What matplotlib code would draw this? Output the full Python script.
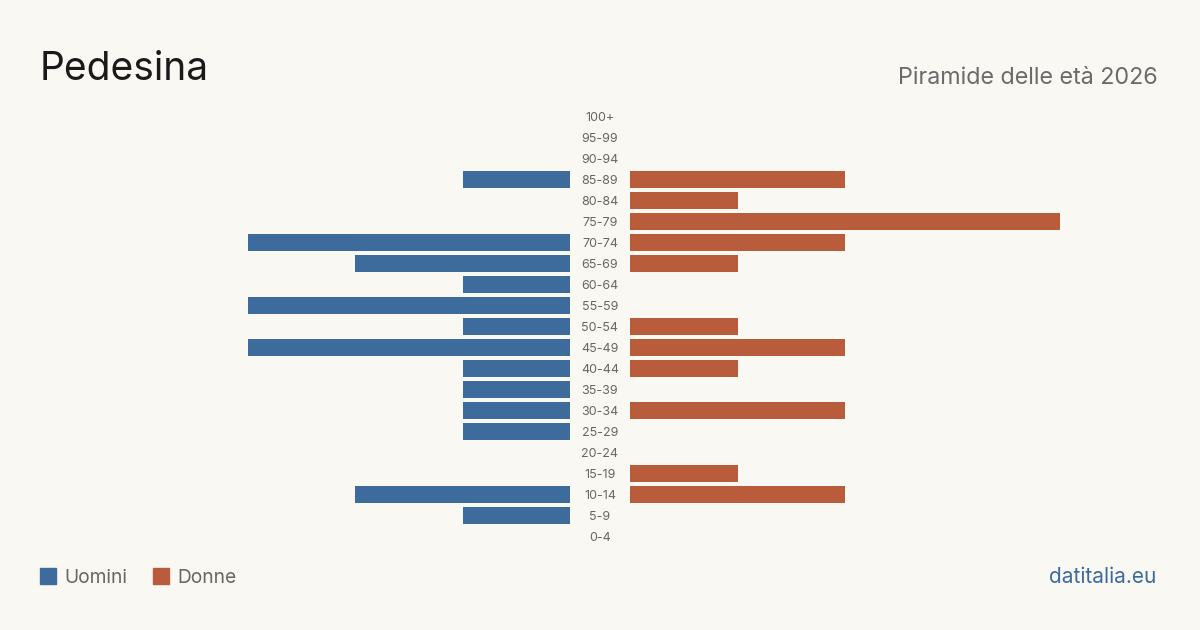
import matplotlib.pyplot as plt

plt.rcParams['font.family'] = ['Inter', 'DejaVu Sans']

# age groups from youngest to oldest
eta = ['0-4', '5-9', '10-14', '15-19', '20-24', '25-29', '30-34', '35-39',
       '40-44', '45-49', '50-54', '55-59', '60-64', '65-69', '70-74',
       '75-79', '80-84', '85-89', '90-94', '95-99', '100+']
uomini = [0, 1, 2, 0, 0, 1, 1, 1, 1, 3, 1, 3, 1, 2, 3, 0, 0, 1, 0, 0, 0]
donne = [0, 0, 2, 1, 0, 0, 2, 0, 1, 2, 1, 0, 0, 1, 2, 4, 1, 2, 0, 0, 0]

BG = '#f9f8f3'
BLU = '#3d6b9b'
ROSSO = '#b95c3c'
W, H = 1200, 630

fig = plt.figure(figsize=(12, 6.3), dpi=100, facecolor=BG)

# pixel layout: rows 21px apart, 0-4 centred at y=537, 1 person = 107.5px
bottom = (H - 547) / H
height = 21 * 21 / H
ax_l = fig.add_axes([140 / W, bottom, 430 / W, height])
ax_r = fig.add_axes([630 / W, bottom, 430 / W, height])

pos = list(range(len(eta)))
ax_l.barh(pos, uomini, height=0.8, color=BLU)
ax_r.barh(pos, donne, height=0.8, color=ROSSO)
ax_l.set_xlim(4, 0)
ax_r.set_xlim(0, 4)
for ax in (ax_l, ax_r):
    ax.set_ylim(-0.5, len(eta) - 0.5)
    ax.axis('off')

for i, lab in enumerate(eta):
    y = (538 - i * 21)
    fig.text(600 / W, 1 - y / H, lab, ha='center', va='center',
             fontsize=9, color='#666666')

fig.text(40 / W, 1 - 80 / H, 'Pedesina', fontsize=28, color='#1a1a1a',
         ha='left', va='baseline')
fig.text(1158 / W, 1 - 84 / H, 'Piramide delle età 2026', fontsize=16.8,
         color='#6b6b6b', ha='right', va='baseline')

# legend
fig.patches.append(plt.Rectangle((40 / W, 1 - 584 / H), 16 / W, 16 / H,
                                 transform=fig.transFigure, color=BLU))
fig.text(64 / W, 1 - 583 / H, 'Uomini', fontsize=13.8, color='#666666',
         ha='left', va='baseline')
fig.patches.append(plt.Rectangle((153 / W, 1 - 584 / H), 16 / W, 16 / H,
                                 transform=fig.transFigure, color=ROSSO))
fig.text(177 / W, 1 - 583 / H, 'Donne', fontsize=13.8, color='#666666',
         ha='left', va='baseline')
fig.text(1156 / W, 1 - 583 / H, 'datitalia.eu', fontsize=15, color=BLU,
         ha='right', va='baseline')

fig.savefig('out.png', dpi=100, facecolor=BG)
